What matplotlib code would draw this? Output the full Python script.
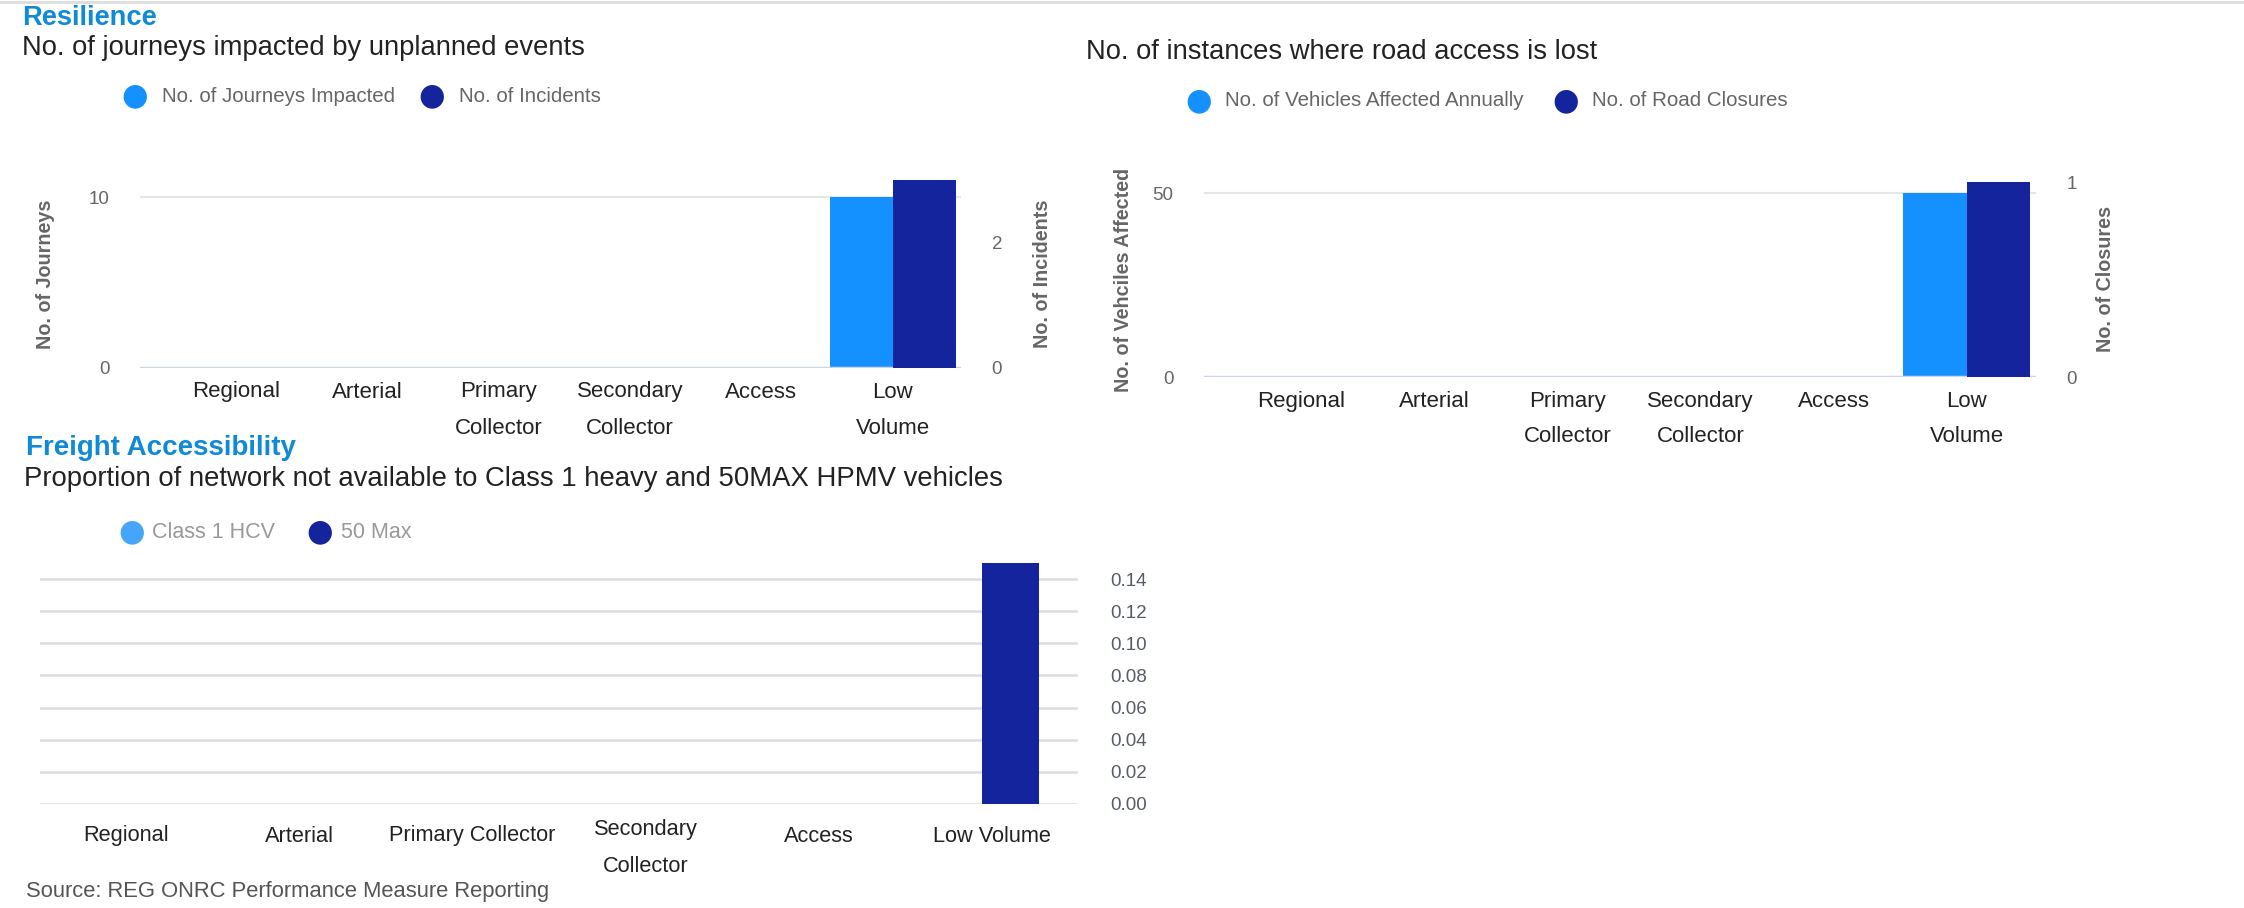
import matplotlib
matplotlib.use("Agg")
import matplotlib.pyplot as plt
import numpy as np

plt.rcParams['font.family'] = ['Liberation Sans', 'DejaVu Sans']

# ---------------- data ----------------
categories_wrapped = ["Regional", "Arterial", "Primary\nCollector", "Secondary\nCollector", "Access", "Low\nVolume"]
categories_freight = ["Regional", "Arterial", "Primary Collector", "Secondary\nCollector", "Access", "Low Volume"]

journeys_impacted = [0, 0, 0, 0, 0, 10]
incidents = [0, 0, 0, 0, 0, 3]

vehicles_affected = [0, 0, 0, 0, 0, 50]
road_closures = [0, 0, 0, 0, 0, 1]

class1_hcv = [0, 0, 0, 0, 0, 0]
max50 = [0, 0, 0, 0, 0, 0.15]

left_ticks_1 = [0, 10]
right_ticks_1 = [0, 2]
left_ticks_2 = [0, 50]
right_ticks_2 = [0, 1]
ticks_3 = [0.00, 0.02, 0.04, 0.06, 0.08, 0.10, 0.12, 0.14]

# ---------------- style ----------------
W, H = 2244, 908
LIGHT = "#1590ff"
DARK = "#13249d"
LIGHT3 = "#45a5f8"
TITLE_BLUE = "#0f8ad8"
TEXT = "#222222"
GRID = "#e6e6e6"
BASE = "#ccd6eb"
TICKC = "#666666"
LABC = "#666666"

fig = plt.figure(figsize=(W / 100, H / 100), dpi=100)
fig.patch.set_facecolor("white")


def px_axes(x0, y0, x1, y1):
    return fig.add_axes([x0 / W, 1 - y1 / H, (x1 - x0) / W, (y1 - y0) / H])


def ftext(x, y, s, **kw):
    return fig.text(x / W, 1 - y / H, s, **kw)


def clean(ax):
    for sp in ax.spines.values():
        sp.set_visible(False)
    ax.tick_params(length=0)
    ax.set_facecolor("none")


# top border line
fig.add_artist(plt.Line2D([0, 1], [1 - 1.5 / H, 1 - 1.5 / H], color="#dddddd", lw=2))


def legend(items, y, color_text, size=14.8):
    for (mx, tx, col, lab) in items:
        ftext(mx, y, "\u25cf", color=col, fontsize=22, ha="center", va="center", family="DejaVu Sans")
        ftext(tx, y, lab, color=color_text, fontsize=size, ha="left", va="center")


def dual_chart(x0, y0, x1, y1, left_vals, right_vals, left_max, right_max,
               lticks, rticks, ylab_l, ylab_r, line_gap, xl_y, lpad_l, lpad_r):
    ax = px_axes(x0, y0, x1, y1)
    clean(ax)
    x = np.arange(len(categories_wrapped))
    w = 0.46
    ax.bar(x - w / 2, left_vals, width=w, color=LIGHT, linewidth=0, zorder=3)
    ax.set_xlim(-0.5, len(x) - 0.5)
    ax.set_ylim(0, left_max)
    ax.set_yticks(lticks)
    ax.set_yticklabels([str(t) for t in lticks], color=TICKC, fontsize=13.5)
    ax.tick_params(axis="y", pad=22)
    for t in lticks[1:]:
        ax.axhline(t, color=GRID, lw=1.5, zorder=1)
    ax.axhline(0, color=BASE, lw=2.5, zorder=4)
    ax.set_xticks([])
    ax2 = ax.twinx()
    clean(ax2)
    ax2.bar(x + w / 2, right_vals, width=w, color=DARK, linewidth=0, zorder=3)
    ax2.set_ylim(0, right_max)
    ax2.set_yticks(rticks)
    ax2.set_yticklabels([str(t) for t in rticks], color=TICKC, fontsize=13.5)
    ax2.tick_params(axis="y", pad=22)
    ax.set_ylabel(ylab_l, color=LABC, fontsize=14.2, fontweight="bold", labelpad=lpad_l)
    ax2.set_ylabel(ylab_r, color=LABC, fontsize=14.2, fontweight="bold", labelpad=lpad_r)
    # category labels (Highcharts-style, slightly compressed toward the right)
    for i, lab in enumerate(categories_wrapped):
        xd = ax.transData.transform((0.2 + i * 0.96, 0))[0]
        parts = lab.split("\n")
        for j, p in enumerate(parts):
            ftext(xd, xl_y + j * line_gap, p, fontsize=16, color=TEXT, ha="center", va="center")
    return ax, ax2


# ---------------- chart 1 ----------------
ftext(22, 18, "Resilience", fontsize=19.6, fontweight="bold", color=TITLE_BLUE, ha="left", va="center")
ftext(22, 48, "No. of journeys impacted by unplanned events", fontsize=19.7, color=TEXT, ha="left", va="center")
legend([(135, 162, LIGHT, "No. of Journeys Impacted"), (432, 459, DARK, "No. of Incidents")], 96, "#666666")
dual_chart(140, 180, 961, 368, journeys_impacted, incidents, 11.0, 3.0,
           left_ticks_1, right_ticks_1, "No. of Journeys", "No. of Incidents", 36, 392, 24, 22)

# ---------------- chart 2 ----------------
ftext(1086, 52, "No. of instances where road access is lost", fontsize=19.7, color=TEXT, ha="left", va="center")
legend([(1199, 1225, LIGHT, "No. of Vehicles Affected Annually"), (1566, 1592, DARK, "No. of Road Closures")], 101, "#666666")
dual_chart(1204, 182, 2036, 377, vehicles_affected, road_closures, 53.0, 1.0,
           left_ticks_2, right_ticks_2, "No. of Vehciles Affected", "No. of Closures", 36, 401, 14, 14)

# ---------------- chart 3 ----------------
ftext(26, 448, "Freight Accessibility", fontsize=20, fontweight="bold", color=TITLE_BLUE, ha="left", va="center")
ftext(24, 479, "Proportion of network not available to Class 1 heavy and 50MAX HPMV vehicles", fontsize=19.8,
      color=TEXT, ha="left", va="center")
legend([(132, 152, LIGHT3, "Class 1 HCV"), (320, 341, DARK, "50 Max")], 532, "#999999", size=15.5)

ax3 = px_axes(40, 563, 1078, 804)
clean(ax3)
x = np.arange(len(categories_freight))
w3 = 0.33
ax3.bar(x - 0.11, class1_hcv, width=w3, color=LIGHT3, linewidth=0, zorder=3)
ax3.bar(x + 0.11, max50, width=w3, color=DARK, linewidth=0, zorder=3)
ax3.set_xlim(-0.5, len(x) - 0.5)
ax3.set_ylim(0, 0.15)
ax3.yaxis.tick_right()
ax3.set_yticks(ticks_3)
ax3.set_yticklabels([f"{t:.2f}" for t in ticks_3], color="#555c66", fontsize=13.5)
ax3.tick_params(axis="y", pad=23)
for t in ticks_3:
    ax3.axhline(t, color="#dddddd", lw=1.8, zorder=1)
ax3.set_xticks([])
for i, lab in enumerate(categories_freight):
    xd = ax3.transData.transform((i, 0))[0]
    parts = lab.split("\n")
    if len(parts) == 1:
        ys = [836]
    else:
        ys = [830, 866]
    for p, yy in zip(parts, ys):
        ftext(xd, yy, p, fontsize=15.7, color=TEXT, ha="center", va="center")

ftext(26, 892, "Source: REG ONRC Performance Measure Reporting", fontsize=15.8, color="#555555", ha="left", va="center")

fig.savefig("out.png", dpi=100, facecolor="white")
